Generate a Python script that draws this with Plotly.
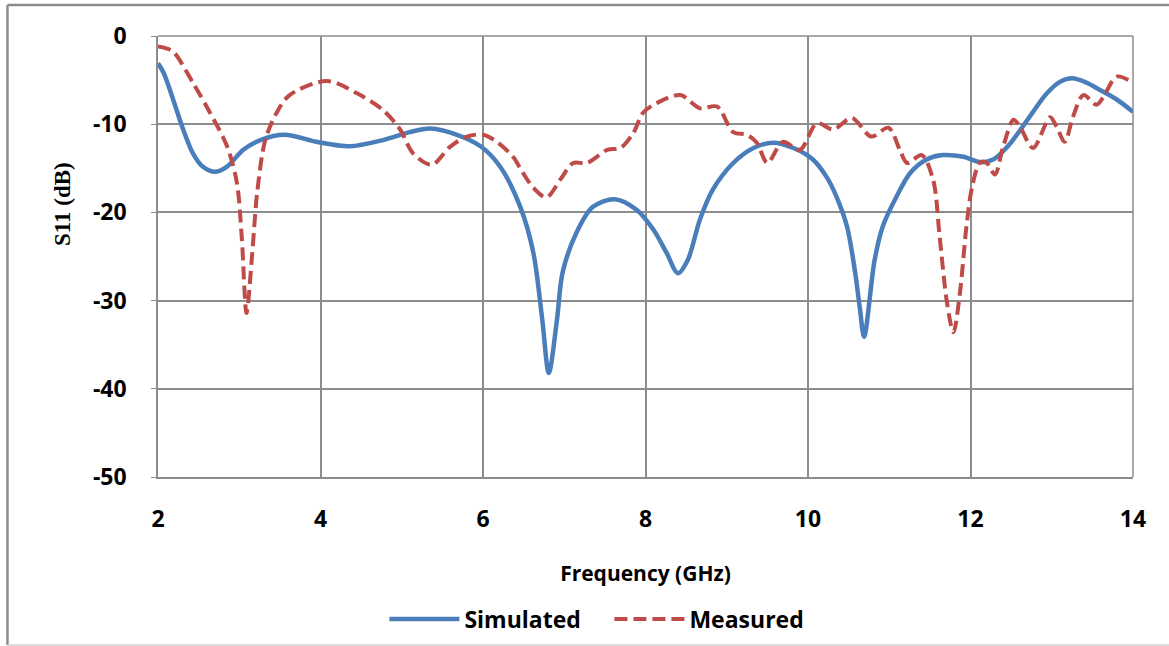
import plotly.graph_objects as go

# Simulated S11 (frequency GHz, dB)
sim_f = [2.0, 2.07, 2.19, 2.31, 2.43, 2.55, 2.70, 2.85, 3.05, 3.26, 3.56, 3.95, 4.36, 4.77, 5.10,
         5.35, 5.68, 5.97, 6.21, 6.46, 6.62, 6.73, 6.81, 6.91, 6.98, 7.15, 7.35, 7.62, 7.89, 8.10,
         8.26, 8.40, 8.52, 8.67, 8.83, 9.08, 9.33, 9.57, 9.82, 10.06, 10.23, 10.35, 10.48, 10.58,
         10.64, 10.69, 10.82, 10.92, 11.09, 11.26, 11.46, 11.66, 11.91, 12.12, 12.28, 12.45, 12.61,
         12.77, 12.94, 13.10, 13.25, 13.43, 13.59, 13.80, 14.0]
sim_db = [-3.1, -4.2, -7.3, -10.6, -13.3, -14.8, -15.4, -14.8, -12.9, -11.8, -11.2, -12.0, -12.5,
          -11.8, -10.9, -10.5, -11.2, -12.5, -14.8, -19.4, -24.6, -32.2, -38.2, -32.2, -26.8, -22.3,
          -19.4, -18.5, -19.7, -22.0, -24.6, -26.9, -25.4, -20.8, -17.4, -14.4, -12.7, -12.1, -12.7,
          -14.0, -16.0, -18.2, -21.6, -26.8, -31.0, -34.1, -25.4, -21.6, -18.2, -15.5, -14.0, -13.5,
          -13.7, -14.3, -14.0, -12.6, -10.7, -8.6, -6.5, -5.2, -4.8, -5.3, -6.1, -7.2, -8.6]

# Measured S11
meas_f = [2.0, 2.10, 2.19, 2.43, 2.64, 2.85, 2.97, 3.03, 3.09, 3.16, 3.22, 3.32, 3.46, 3.62, 4.08,
          4.45, 4.77, 4.98, 5.14, 5.37, 5.59, 5.80, 6.0, 6.17, 6.37, 6.49, 6.62, 6.78, 6.95, 7.11,
          7.28, 7.53, 7.69, 7.85, 7.97, 8.14, 8.43, 8.67, 8.88, 9.08, 9.25, 9.37, 9.50, 9.69, 9.90,
          10.11, 10.31, 10.54, 10.78, 10.99, 11.13, 11.22, 11.40, 11.54, 11.62, 11.71, 11.79,
          11.87, 11.95, 12.02, 12.12, 12.2, 12.30, 12.40, 12.53, 12.61, 12.77, 12.98, 13.06,
          13.16, 13.26, 13.39, 13.55, 13.63, 13.80, 14.0]
meas_db = [-1.2, -1.4, -1.8, -5.3, -8.7, -12.5, -16.6, -22.7, -31.4, -24.6, -17.8, -11.8, -8.7,
           -6.7, -5.1, -6.5, -8.4, -10.6, -13.3, -14.6, -12.6, -11.4, -11.2, -12.0, -13.7, -15.5,
           -17.2, -18.3, -16.3, -14.4, -14.4, -12.9, -12.7, -11.0, -8.7, -7.6, -6.7, -8.2, -8.0,
           -10.9, -11.2, -12.1, -14.4, -12.0, -12.9, -9.9, -10.6, -9.3, -11.4, -10.4, -12.9, -14.4,
           -13.5, -16.3, -22.7, -30.2, -33.6, -29.1, -21.6, -17.1, -14.3, -14.4, -15.7, -12.6,
           -9.5, -10.3, -12.7, -9.2, -10.3, -12.0, -9.2, -6.7, -7.8, -7.0, -4.6, -5.3]

x_ticks = [2, 4, 6, 8, 10, 12, 14]
y_ticks = [0, -10, -20, -30, -40, -50]

BLUE = "#4A7EBB"
RED = "#BE4B48"
GRID = "#8C8C8C"
SANS = "Open Sans, Liberation Sans, sans-serif"
SERIF = "Liberation Serif, DejaVu Serif, serif"
tick_font = dict(family=SANS, size=23, color="black", weight="bold")

fig = go.Figure()
fig.add_trace(go.Scatter(x=sim_f, y=sim_db, mode="lines", name="Simulated",
                         line=dict(color=BLUE, width=4.5, shape="spline", smoothing=0.9)))
fig.add_trace(go.Scatter(x=meas_f, y=meas_db, mode="lines", name="Measured",
                         line=dict(color=RED, width=4, shape="spline", smoothing=0.9, dash="13px,6px")))

fig.update_layout(
    width=1169, height=646,
    margin=dict(l=158, r=36, t=36, b=169, autoexpand=False),
    paper_bgcolor="white", plot_bgcolor="white",
    showlegend=True,
    legend=dict(orientation="h", x=0.463, xanchor="center", y=-0.322, yanchor="middle",
                bgcolor="rgba(0,0,0,0)",
                font=dict(family=SANS, size=23, color="black", weight="bold"),
                itemwidth=70, traceorder="normal", entrywidth=140, entrywidthmode="pixels"),
    xaxis=dict(range=[2, 14], tickvals=x_ticks, ticktext=[str(v) for v in x_ticks],
               showgrid=True, gridcolor=GRID, gridwidth=1.5, showline=True, linecolor=GRID, linewidth=1.5,
               zeroline=False, ticks="", tickfont=tick_font, ticklabelstandoff=21,
               title=dict(text="Frequency (GHz)", standoff=33,
                          font=dict(family=SANS, size=21, color="black", weight="bold"))),
    yaxis=dict(range=[-50, 0], tickvals=y_ticks, ticktext=[str(v) for v in y_ticks],
               showgrid=True, gridcolor=GRID, gridwidth=1.5, showline=True, linecolor=GRID, linewidth=1.5,
               zeroline=False, ticks="outside", ticklen=5, tickcolor=GRID, tickfont=tick_font,
               ticklabelstandoff=20),
)

# y-axis title (placed above centre as in the reference)
fig.add_annotation(text="<b>S11 (dB)</b>", textangle=-90, xref="paper", yref="paper",
                   x=-0.0985, y=0.619, xanchor="center", yanchor="middle", showarrow=False,
                   font=dict(family=SERIF, size=23, color="black"))

# outer chart border (top/left dark, bottom light, right edge off-canvas)
fig.add_shape(type="line", xref="paper", yref="paper", x0=-0.1544, x1=1.05, y0=1.0703, y1=1.0703,
              line=dict(color="#8C8C8C", width=2.5), layer="below")
fig.add_shape(type="line", xref="paper", yref="paper", x0=-0.1544, x1=-0.1544, y0=-0.381, y1=1.0703,
              line=dict(color="#8C8C8C", width=2.5), layer="below")
fig.add_shape(type="line", xref="paper", yref="paper", x0=-0.1544, x1=1.05, y0=-0.381, y1=-0.381,
              line=dict(color="#CFCFCF", width=1.5), layer="below")
# top and right plot frame (grid lines at 0 dB and 14 GHz)
fig.add_shape(type="line", xref="paper", yref="paper", x0=0, x1=1, y0=1, y1=1, line=dict(color=GRID, width=1.5), layer="below")
fig.add_shape(type="line", xref="paper", yref="paper", x0=1, x1=1, y0=0, y1=1, line=dict(color=GRID, width=1.5), layer="below")

fig.write_html("out.html")
